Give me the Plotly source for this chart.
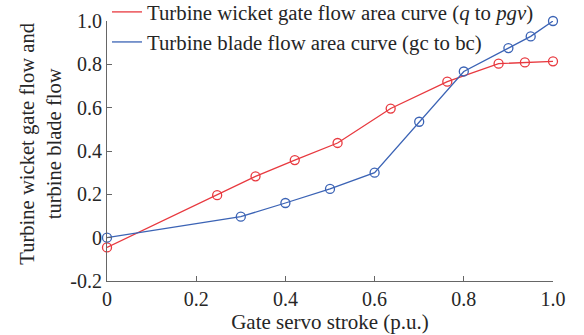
import plotly.graph_objects as go

# Data
red_x = [0.0, 0.247, 0.333, 0.421, 0.517, 0.636, 0.763, 0.878, 0.937, 1.0]
red_y = [-0.045, 0.196, 0.283, 0.358, 0.437, 0.596, 0.72, 0.803, 0.809, 0.814]
blue_x = [0.0, 0.3, 0.4, 0.5, 0.6, 0.7, 0.8, 0.9, 0.95, 1.0]
blue_y = [0.0, 0.097, 0.16, 0.225, 0.30, 0.535, 0.767, 0.875, 0.929, 1.0]

red_name = "Turbine wicket gate flow area curve (<i>q</i> to <i>pgv</i>)"
blue_name = "Turbine blade flow area curve (gc to bc)"
x_title = "Gate servo stroke (p.u.)"
y_title = "Turbine wicket gate flow and<br>turbine blade flow"
x_ticks = [0, 0.2, 0.4, 0.6, 0.8, 1.0]
x_ticklabels = ["0", "0.2", "0.4", "0.6", "0.8", "1.0"]
y_ticks = [-0.2, 0, 0.2, 0.4, 0.6, 0.8, 1.0]
y_ticklabels = ["-0.2", "0", "0.2", "0.4", "0.6", "0.8", "1.0"]

RED = "#e8393f"
BLUE = "#3b63b5"
FONT = "Liberation Serif"
TXT = "#262626"

fig = go.Figure()
for xs, ys, col, name, grp in [(red_x, red_y, RED, red_name, "a"), (blue_x, blue_y, BLUE, blue_name, "b")]:
    fig.add_trace(go.Scatter(
        x=xs, y=ys, mode="lines", line=dict(color=col, width=1.3),
        name=name, legendgroup=grp, cliponaxis=False))
    fig.add_trace(go.Scatter(
        x=xs, y=ys, mode="markers", showlegend=False, legendgroup=grp,
        marker=dict(symbol="circle-open", size=9, color=col, line=dict(width=1.3)),
        cliponaxis=False))

fig.update_layout(
    width=584, height=335,
    margin=dict(l=107, r=31, t=21, b=54, autoexpand=False),
    paper_bgcolor="white", plot_bgcolor="white",
    font=dict(family=FONT, size=20, color=TXT),
    showlegend=True,
    legend=dict(x=0.0, y=1.112, xanchor="left", yanchor="top",
                bgcolor="rgba(0,0,0,0)", borderwidth=0,
                font=dict(family=FONT, size=20.8, color=TXT),
                tracegroupgap=0, traceorder="grouped"),
    xaxis=dict(range=[0, 1], tickvals=x_ticks, ticktext=x_ticklabels,
               showgrid=False, zeroline=False, showline=True, linecolor="#666666",
               linewidth=1.2, ticks="inside", ticklen=5, tickcolor="#666666",
               tickfont=dict(family=FONT, size=20, color=TXT),
               title=dict(text=x_title, standoff=0, font=dict(family=FONT, size=21, color=TXT))),
    yaxis=dict(range=[-0.2, 1.0], tickvals=y_ticks, ticktext=y_ticklabels,
               showgrid=False, zeroline=False, showline=True, linecolor="#666666",
               linewidth=1.2, ticks="inside", ticklen=5, tickcolor="#666666",
               tickfont=dict(family=FONT, size=20, color=TXT)),
    annotations=[dict(text=y_title, xref="paper", yref="paper",
                      x=-0.148, y=0.528, xanchor="center", yanchor="middle",
                      textangle=-90, showarrow=False,
                      font=dict(family=FONT, size=20.6, color=TXT))],
)

fig.write_html("out.html")
